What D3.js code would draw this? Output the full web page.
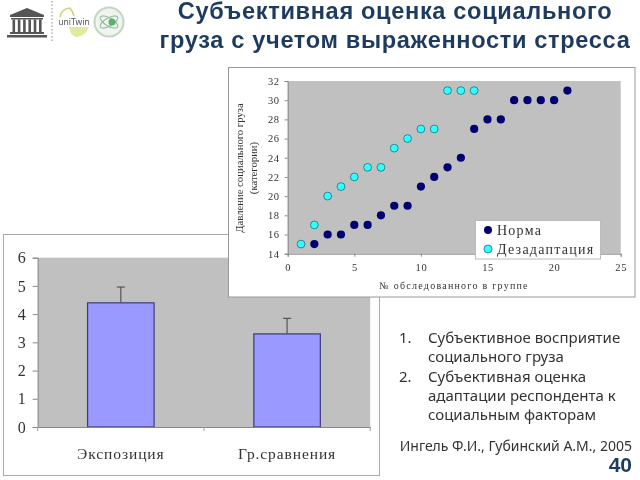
<!DOCTYPE html>
<html><head><meta charset="utf-8">
<script src="https://cdn.jsdelivr.net/npm/d3@7/dist/d3.min.js"></script>
<style>html,body{margin:0;padding:0;background:#fff}svg{display:block}</style>
</head><body><svg id="c" width="640" height="480"></svg>
<script>
const titleLines = ["Субъективная оценка социального","груза с учетом выраженности стресса"];
const barCategories = ["Экспозиция","Гр.сравнения"];
const barValues = [4.4,3.3];
const barErrorTops = [4.96,3.85];
const barTicks = [0,1,2,3,4,5,6];
const normaX = [2,3,4,5,6,7,8,9,10,11,12,13,14,15,16,17,18,19,20,21];
const normaY = [15,16,16,17,17,18,19,19,21,22,23,24,27,28,28,30,30,30,30,31];
const dezX = [1,2,3,4,5,6,7,8,9,10,11,12,13,14];
const dezY = [15,17,20,21,22,23,23,25,26,27,27,31,31,31];
const scatterXTicks = [0,5,10,15,20,25];
const scatterYTicks = [14,16,18,20,22,24,26,28,30,32];
const legendLabels = ["Норма","Дезадаптация"];
const listItems = [["1.",["Субъективное восприятие","социального груза"]],["2.",["Субъективная оценка","адаптации респондента к","социальным факторам"]]];
const citation = "Ингель Ф.И., Губинский А.М., 2005";
const pageNumber = "40";

const svg = d3.select("#c");
const serif = "'Liberation Serif'";
const sans = "'Noto Sans'";
const textCol = "#333";

const defs = svg.append("defs");
defs.append("filter").attr("id","soft").append("feGaussianBlur").attr("stdDeviation",0.5);
const root = svg.append("g").attr("filter","url(#soft)");

// title
root.selectAll("text.title").data(titleLines).join("text").attr("class","title")
  .attr("x",395).attr("y",(d,i)=>[19,48][i]).attr("text-anchor","middle")
  .attr("font-family","'Liberation Sans'").attr("font-weight","bold").attr("font-size",23.6)
  .attr("letter-spacing",0.65).attr("fill","#1f3a5f").text(d=>d);

// logos
const logos = root.append("g");
const u = logos.append("g").attr("fill","#555");
u.append("path").attr("d","M10 15 L27 8 L44 15 L44 17 L10 17 Z");
u.append("rect").attr("x",11).attr("y",18).attr("width",32).attr("height",1.5);
d3.range(6).forEach(i=>u.append("rect").attr("x",12.5+i*5.3).attr("y",19.5).attr("width",2.6).attr("height",12.5));
u.append("rect").attr("x",10).attr("y",32).attr("width",34).attr("height",2);
u.append("rect").attr("x",7).attr("y",35).attr("width",40).attr("height",2.5);
logos.append("line").attr("x1",52).attr("x2",52).attr("y1",1).attr("y2",42)
  .attr("stroke","#888").attr("stroke-dasharray","1.5 2");
logos.append("path").attr("d","M60 17 Q61 9 70 8 Q73 12 74 16").attr("fill","none").attr("stroke","#c9d67a").attr("stroke-width",1.6);
logos.append("path").attr("d","M69 27 Q70 36 77 37 Q86 36 89 27 Z").attr("fill","#e3ea9f");
logos.append("text").attr("x",74).attr("y",25).attr("text-anchor","middle").attr("font-family",sans).attr("font-size",8.5).attr("fill","#555").text("uniTwin");
logos.append("circle").attr("cx",109).attr("cy",22).attr("r",14.5).attr("fill","#eef4ee").attr("stroke","#c3d6c3").attr("stroke-width",2);
logos.append("ellipse").attr("cx",109).attr("cy",22).attr("rx",10).attr("ry",4).attr("fill","none").attr("stroke","#8fb59a").attr("transform","rotate(30 109 22)");
logos.append("ellipse").attr("cx",109).attr("cy",22).attr("rx",10).attr("ry",4).attr("fill","none").attr("stroke","#8fb59a").attr("transform","rotate(-30 109 22)");
logos.append("circle").attr("cx",112).attr("cy",22).attr("r",3.5).attr("fill","#5fae6a");

// bar chart
root.append("rect").attr("x",3.5).attr("y",234.5).attr("width",376).attr("height",241)
  .attr("fill","#fff").attr("stroke","#aaa");
const bx = d3.scaleBand().domain(barCategories).range([37.7,370.2]).paddingInner(0.6).paddingOuter(0.3);
const by = d3.scaleLinear().domain([0,6]).range([427,257.7]);
root.append("rect").attr("x",37.7).attr("y",257.7).attr("width",332.5).attr("height",169.3).attr("fill","#c0c0c0");
root.selectAll("rect.bar").data(barValues).join("rect").attr("class","bar")
  .attr("x",(d,i)=>bx(barCategories[i])).attr("width",bx.bandwidth())
  .attr("y",d=>by(d)).attr("height",d=>by(0)-by(d))
  .attr("fill","#9999ff").attr("stroke","#3d3d75").attr("stroke-width",1.2);
barValues.forEach((v,i)=>{
  const cx = bx(barCategories[i])+bx.bandwidth()/2;
  root.append("line").attr("x1",cx).attr("x2",cx).attr("y1",by(v)).attr("y2",by(barErrorTops[i])).attr("stroke","#555").attr("stroke-width",1.2);
  root.append("line").attr("x1",cx-4).attr("x2",cx+4).attr("y1",by(barErrorTops[i])).attr("y2",by(barErrorTops[i])).attr("stroke","#555").attr("stroke-width",1.2);
});
const barAxisY = root.append("g").attr("transform","translate(37.7,0)")
  .call(d3.axisLeft(by).tickValues(barTicks).tickSize(5).tickPadding(7).tickFormat(d3.format("d")));
barAxisY.selectAll("text").attr("font-family",serif).attr("font-size",16).attr("fill",textCol);
barAxisY.selectAll("line,path").attr("stroke","#888");
const barAxisX = root.append("g").attr("transform","translate(0,427)")
  .call(d3.axisBottom(bx).tickSize(0).tickPadding(21));
barAxisX.selectAll("text").attr("font-family",serif).attr("font-size",15.5).attr("letter-spacing",0.9).attr("fill",textCol);
barAxisX.select("path").attr("stroke","#888");
[37.7,204,370.2].forEach(x=>root.append("line").attr("x1",x).attr("x2",x).attr("y1",427).attr("y2",431).attr("stroke","#999"));

// scatter
root.append("rect").attr("x",228.5).attr("y",67.5).attr("width",406.5).attr("height",229.5)
  .attr("fill","#fff").attr("stroke","#999");
const sx = d3.scaleLinear().domain([0,25]).range([287.7,620.7]);
const sy = d3.scaleLinear().domain([14,32]).range([253.7,81]);
root.append("rect").attr("x",287.7).attr("y",81).attr("width",333).attr("height",172.7).attr("fill","#c0c0c0");
const sAxisY = root.append("g").attr("transform","translate(287.7,0)")
  .call(d3.axisLeft(sy).tickValues(scatterYTicks).tickSize(3).tickPadding(5));
sAxisY.selectAll("text").attr("font-family",serif).attr("font-size",10.5).attr("letter-spacing",0.6).attr("fill",textCol);
sAxisY.selectAll("line,path").attr("stroke","#888");
const sAxisX = root.append("g").attr("transform","translate(0,253.7)")
  .call(d3.axisBottom(sx).tickValues(scatterXTicks).tickSize(3).tickPadding(7));
sAxisX.selectAll("text").attr("font-family",serif).attr("font-size",10.5).attr("letter-spacing",0.6).attr("fill",textCol);
sAxisX.selectAll("line,path").attr("stroke","#888");
root.selectAll("circle.norma").data(normaX).join("circle").attr("class","norma")
  .attr("cx",d=>sx(d)).attr("cy",(d,i)=>sy(normaY[i])).attr("r",4.1).attr("fill","#000070");
root.selectAll("circle.dez").data(dezX).join("circle").attr("class","dez")
  .attr("cx",d=>sx(d)).attr("cy",(d,i)=>sy(dezY[i])).attr("r",3.9).attr("fill","#33ffff").attr("stroke","#1a6f7a").attr("stroke-width",0.8);
root.append("text").attr("transform","translate(243,168) rotate(-90)").attr("text-anchor","middle")
  .attr("font-family",serif).attr("font-size",10.7).attr("fill",textCol).text("Давление социального груза");
root.append("text").attr("transform","translate(257,168) rotate(-90)").attr("text-anchor","middle")
  .attr("font-family",serif).attr("font-size",10.7).attr("fill",textCol).text("(категории)");
root.append("text").attr("x",454).attr("y",289).attr("text-anchor","middle")
  .attr("font-family",serif).attr("font-size",10).attr("letter-spacing",1.25).attr("fill",textCol).text("№ обследованного в группе");
// legend
root.append("rect").attr("x",475.5).attr("y",220.5).attr("width",125).attr("height",38.5).attr("fill","#fff").attr("stroke","#bbb");
legendLabels.forEach((t,i)=>{
  const ly = [231,250][i];
  root.append("circle").attr("cx",488).attr("cy",ly-1).attr("r",4)
    .attr("fill",i?"#33ffff":"#000070").attr("stroke",i?"#1a6f7a":"none").attr("stroke-width",0.8);
  root.append("text").attr("x",497).attr("y",ly+4).attr("font-family",serif).attr("font-size",14).attr("letter-spacing",1.25).attr("fill",textCol).text(t);
});

// list
const listLineY = [343,362,382,401,420];
let li = 0;
listItems.forEach(([n,lines])=>{
  root.append("text").attr("x",399).attr("y",listLineY[li]).attr("font-family",sans).attr("font-size",15).attr("fill","#333").text(n);
  lines.forEach(l=>{
    root.append("text").attr("x",428).attr("y",listLineY[li]).attr("font-family",sans).attr("font-size",15).attr("fill","#333").text(l);
    li++;
  });
});
root.append("text").attr("x",632).attr("y",451).attr("text-anchor","end").attr("font-family",sans).attr("font-size",14).attr("fill","#333").text(citation);
root.append("text").attr("x",632).attr("y",472).attr("text-anchor","end").attr("font-family","'Liberation Sans'").attr("font-weight","bold").attr("font-size",21).attr("fill","#1f3a5f").text(pageNumber);
</script></body></html>
